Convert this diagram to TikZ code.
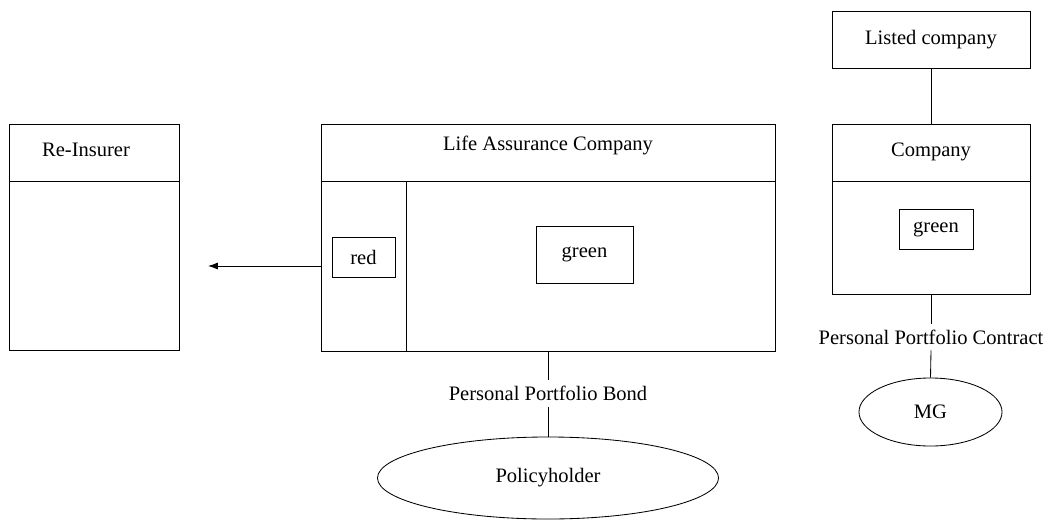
\documentclass[tikz,border=0pt]{standalone}
\usepackage{fontspec}
\setmainfont{Liberation Serif}
\usetikzlibrary{shapes.geometric,arrows.meta}
\tikzset{
  box/.style={draw, rectangle, inner sep=0pt, line width=0.6pt},
  blob/.style={draw, ellipse, inner sep=0pt, line width=0.6pt},
  lbl/.style={inner sep=0pt, minimum height=0.66cm},
  title/.style={anchor=base},
  link/.style={line width=0.6pt}
}

\begin{document}
\begin{tikzpicture}[x=0.025cm, y=-0.025cm, font=\fontsize{14.6}{17}\selectfont]
\useasboundingbox (0,0) rectangle (1046,520);

% Re-Insurer
\node[box, minimum width=4.25cm, minimum height=5.65cm] (reins) at (94,237) {};
\draw[link] (9,181) -- (179,181);
\node[title] (reinstitle) at (86,156) {Re-Insurer};

% Life Assurance Company
\node[box, minimum width=11.35cm, minimum height=5.675cm] (lifeco) at (548,237.5) {};
\draw[link] (321,181) -- (775,181);
\draw[link] (406,181) -- (406,351);
\node[title] (lifetitle) at (548,150) {Life Assurance Company};
\node[box, minimum width=1.575cm, minimum height=1cm] (redbox) at (363.5,257) {red};
\node[box, minimum width=2.425cm, minimum height=1.425cm] (greenlife) at (584.5,254.5) {green};

% Listed company and Company
\node[box, minimum width=4.95cm, minimum height=1.425cm] (listed) at (931,39.5) {Listed company};
\node[box, minimum width=4.95cm, minimum height=4.25cm] (company) at (931,209) {};
\draw[link] (832,181) -- (1030,181);
\node[title] (comptitle) at (931,156) {Company};
\node[box, minimum width=1.85cm, minimum height=1cm] (greencomp) at (936,229) {green};

% Holders
\node[blob, minimum width=8.525cm, minimum height=2.05cm] (policyholder) at (548,478) {Policyholder};
\node[blob, minimum width=3.575cm, minimum height=1.7cm] (mg) at (930.5,412) {MG};

% Contract labels
\node[lbl] (bondlabel) at (548,393.5) {Personal Portfolio Bond};
\node[lbl] (contractlabel) at (931,337) {Personal Portfolio Contract};

% Connectors
\coordinate (arrowend) at (208,266);
\draw[link, -{Latex[length=7pt, width=5pt]}] (lifeco.west |- arrowend) -- (arrowend);
\draw[link] (listed.south) -- (company.north);
\draw[link] (lifeco.south) -- (bondlabel.north);
\draw[link] (bondlabel.south) -- (policyholder.north);
\draw[link] (company.south) -- (contractlabel.north);
\draw[link] (contractlabel.south) -- (mg.north);
\end{tikzpicture}
\end{document}
